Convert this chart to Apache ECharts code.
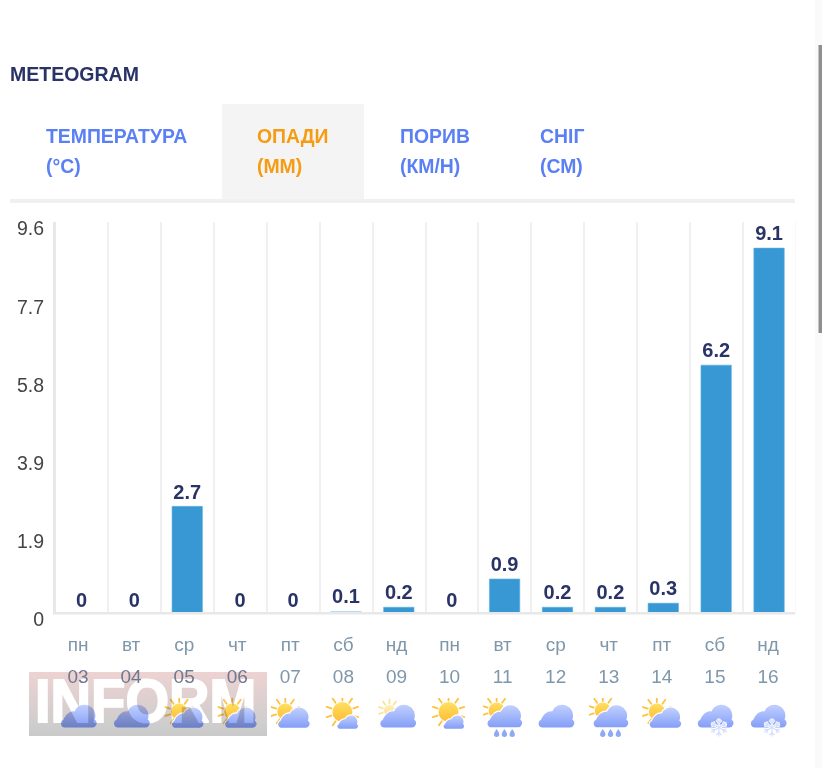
<!DOCTYPE html>
<html>
<head>
<meta charset="utf-8">
<style>html,body{margin:0;padding:0;background:#fff}#chart{width:822px;height:768px}</style>
<script src="https://cdn.jsdelivr.net/npm/echarts@6/dist/echarts.min.js"></script>
</head>
<body>
<div id="chart"></div>
<script>
var dayNames = ['пн','вт','ср','чт','пт','сб','нд','пн','вт','ср','чт','пт','сб','нд'];
var dates = ['03','04','05','06','07','08','09','10','11','12','13','14','15','16'];
var rainfall = [0,0,2.7,0,0,0.1,0.2,0,0.9,0.2,0.2,0.3,6.2,9.1];
var weather = ['cloud','cloud','partly','partly','partly','sunny','pale','sunny','rainsun','cloud','rainsun','partly','snow','snow'];
var tickLabels = ['0','1.9','3.9','5.8','7.7','9.6'];
var tabs = [['ТЕМПЕРАТУРА','(°C)'],['ОПАДИ','(ММ)'],['ПОРИВ','(КМ/Н)'],['СНІГ','(СМ)']];

var FONT = '"Liberation Sans", Arial, sans-serif';
var NAVY = '#2a3366';

// weather icons as small svg images
function sun(cx, cy, r, len, opacity) {
    var rays = '';
    for (var a = 0; a < 360; a += 36) {
        var t = (a + 18) * Math.PI / 180;
        rays += '<line x1="' + (cx + Math.cos(t) * (r + 1.5)) + '" y1="' + (cy + Math.sin(t) * (r + 1.5)) +
            '" x2="' + (cx + Math.cos(t) * (r + 1.5 + len)) + '" y2="' + (cy + Math.sin(t) * (r + 1.5 + len)) + '"/>';
    }
    return '<g opacity="' + opacity + '"><g stroke="#fdb40f" stroke-width="1.8" stroke-linecap="round">' + rays + '</g>' +
        '<circle cx="' + cx + '" cy="' + cy + '" r="' + r + '" fill="url(#s)"/></g>';
}
function cloud(x, y, s) {
    var d = 'M4 23.5A4 4 0 0 1 2.4 15.8C4.5 10.5 9 6.5 13.5 7.5A10.8 10.8 0 0 1 33.6 15.5A4.4 4.4 0 0 1 30.5 23.5Z';
    return '<g transform="translate(' + x + ' ' + y + ') scale(' + s + ')">' +
        '<path d="' + d + '" fill="#fff" stroke="#fff" stroke-width="' + (2.2 / s) + '"/>' +
        '<path d="' + d + '" fill="url(#c)"/></g>';
}
function drops(x, y) {
    var out = '';
    for (var i = 0; i < 3; i++) {
        var dx = x + i * 7.8;
        out += '<path d="M' + dx + ' ' + y + 'q2.7 3.6 2.7 5.2a2.7 2.7 0 0 1-5.4 0q0-1.6 2.7-5.2z" fill="#7293f3"/>';
    }
    return out;
}
function flake(cx, cy) {
    var arms = '';
    for (var a = 0; a < 360; a += 60) {
        arms += '<g transform="rotate(' + a + ' ' + cx + ' ' + cy + ')"><line x1="' + cx + '" y1="' + cy + '" x2="' + cx + '" y2="' + (cy - 9) + '"/>' +
            '<path fill="none" d="M' + (cx - 2.5) + ' ' + (cy - 7.5) + 'L' + cx + ' ' + (cy - 5) + 'L' + (cx + 2.5) + ' ' + (cy - 7.5) + '"/></g>';
    }
    return '<g stroke="#fff" stroke-width="2.6">' + arms + '</g><g stroke="#c6d5fd" stroke-width="1.1">' + arms + '</g>';
}
var iconBodies = {
    cloud: cloud(3, 6.5, 1),
    partly: sun(15, 14, 8, 5, 1) + cloud(8, 9.5, 0.88),
    pale: sun(13, 13, 5.5, 4, 0.5) + cloud(4, 6.5, 1),
    sunny: sun(19, 14.5, 10, 5, 1) + cloud(14, 17.5, 0.58),
    rainsun: sun(14, 13, 8, 5, 1) + cloud(5, 7, 0.97) + drops(14, 31.5),
    snow: cloud(3, 6.5, 1) + flake(24, 30)
};
function iconSymbol(name) {
    var svg = '<svg xmlns="http://www.w3.org/2000/svg" width="80" height="80" viewBox="0 0 40 40"><defs>' +
        '<linearGradient id="c" gradientUnits="userSpaceOnUse" x1="0" y1="0" x2="0" y2="23.5"><stop offset="0" stop-color="#b4c6ff"/><stop offset="1" stop-color="#6586f6"/></linearGradient>' +
        '<linearGradient id="s" x1="0" y1="0" x2="0" y2="1"><stop offset="0" stop-color="#ffd93b"/><stop offset="1" stop-color="#ffab00"/></linearGradient>' +
        '</defs>' + iconBodies[name] + '</svg>';
    return 'image://data:image/svg+xml;charset=utf-8,' + encodeURIComponent(svg);
}

// header, divider, baseline, watermark
var graphics = [
    { type: 'rect', shape: { x: 815, y: 0, width: 7, height: 768 }, style: { fill: '#fafafa' }, silent: true },
    { type: 'rect', shape: { x: 818.5, y: 45, width: 3.5, height: 288 }, style: { fill: '#8f8f8f' }, silent: true },
    { type: 'text', x: 10, y: 76, style: { text: 'METEOGRAM', fill: NAVY, font: 'bold 19.5px ' + FONT, verticalAlign: 'middle' } },
    { type: 'rect', shape: { x: 222, y: 104, width: 142, height: 95 }, style: { fill: '#f4f4f4' } },
    { type: 'rect', shape: { x: 10, y: 199, width: 785, height: 4 }, style: { fill: '#f0f0f0' } }
];
var tabX = [46, 257, 400, 540];
tabs.forEach(function(tab, i) {
    var col = i === 1 ? '#f59c12' : '#5b80f5';
    graphics.push({ type: 'text', x: tabX[i], y: 138, style: { text: tab[0], fill: col, font: 'bold 19.4px ' + FONT, verticalAlign: 'middle' } });
    graphics.push({ type: 'text', x: tabX[i], y: 168, style: { text: tab[1], fill: col, font: 'bold 19.4px ' + FONT, verticalAlign: 'middle' } });
});
graphics.push(
    { type: 'rect', z: 50, shape: { x: 53, y: 612, width: 742, height: 8 }, style: { fill: '#fff' }, silent: true },
    { type: 'rect', z: 50, shape: { x: 795.5, y: 215, width: 6, height: 400 }, style: { fill: '#fff' }, silent: true },
    { type: 'rect', z: 51, shape: { x: 53, y: 612, width: 742, height: 2.5 }, style: { fill: '#e8e8e8' }, silent: true },
    { type: 'rect', z: 51, shape: { x: 53, y: 222, width: 3, height: 392 }, style: { fill: '#e8e8e8' }, silent: true },
    { type: 'rect', z: -2, shape: { x: 29, y: 672, width: 238, height: 64 }, silent: true, style: {
        fill: new echarts.graphic.LinearGradient(0, 0, 0, 1, [
            { offset: 0, color: '#eed2d2' },
            { offset: 0.85, color: '#cdcdcd' },
            { offset: 1, color: '#c9c9c9' }
        ]) } },
    { type: 'text', z: -1, x: 35, y: 705, scaleX: 0.92, silent: true, style: { text: 'INFORM', fill: '#fff', stroke: '#fff', lineWidth: 2, font: 'bold 61px ' + FONT, verticalAlign: 'middle' } }
);

var myChart = echarts.init(document.getElementById('chart'), null, { renderer: 'canvas' });

var option = {
    animation: false,
    graphic: graphics,
    grid: [
        { left: 55, right: 26.5, top: 222, bottom: 153 },
        { left: 51.5, right: 27.5, top: 695, bottom: 28 },
        { left: 10, width: 34, top: 230, bottom: 147 }
    ],
    xAxis: [
        { type: 'category', gridIndex: 0, data: dates, axisLine: { show: false }, axisTick: { show: false }, axisLabel: { show: false },
            splitLine: { show: true, lineStyle: { color: '#f0f0f0', width: 2 } } },
        { type: 'category', gridIndex: 1, position: 'top', data: dates, axisLine: { show: false }, axisTick: { show: false },
            axisLabel: { fontSize: 19, fontFamily: FONT, margin: 8, interval: 0,
                color: function(v, i) { return i < 4 ? '#6e788e' : '#7f97ab'; } } },
        { type: 'category', gridIndex: 1, position: 'top', data: dayNames, axisLine: { show: false }, axisTick: { show: false },
            axisLabel: { color: '#7f97ab', fontSize: 19, fontFamily: FONT, margin: 40, interval: 0 } },
        { type: 'category', gridIndex: 2, show: false, data: [''] }
    ],
    yAxis: [
        { type: 'value', gridIndex: 0, min: 0, max: 9.74, axisLabel: { show: false }, axisLine: { show: false }, axisTick: { show: false }, splitLine: { show: false } },
        { type: 'value', gridIndex: 1, show: false, min: 0, max: 1, splitLine: { show: false } },
        { type: 'category', gridIndex: 2, position: 'right', boundaryGap: false, data: tickLabels, axisLine: { show: false }, axisTick: { show: false },
            axisLabel: { inside: true, align: 'right', margin: 0, color: '#444', fontSize: 19.5, fontFamily: FONT, interval: 0 }, splitLine: { show: false } }
    ],
    series: [
        {
            type: 'bar', xAxisIndex: 0, yAxisIndex: 0, barWidth: 31,
            data: rainfall.map(function(v) {
                // the thinnest bar is almost hidden by the baseline and looks pale
                return v === 0.1 ? { value: v, itemStyle: { color: '#b5dcf1', borderWidth: 0 } } : v;
            }),
            itemStyle: { color: '#3798d3', borderColor: '#5fb0e2', borderWidth: 0.6 },
            label: { show: true, position: 'top', distance: 3, color: NAVY, fontSize: 20, fontWeight: 'bold', fontFamily: FONT }
        },
        {
            type: 'scatter', xAxisIndex: 1, yAxisIndex: 1, symbolSize: 40, silent: true, blendMode: 'multiply',
            data: weather.map(function(w, i) {
                return { value: [i, 0.5], symbol: iconSymbol(w) };
            })
        }
    ]
};

myChart.setOption(option);

window.addEventListener('resize', function() {
    myChart.resize();
});
</script>
</body>
</html>
